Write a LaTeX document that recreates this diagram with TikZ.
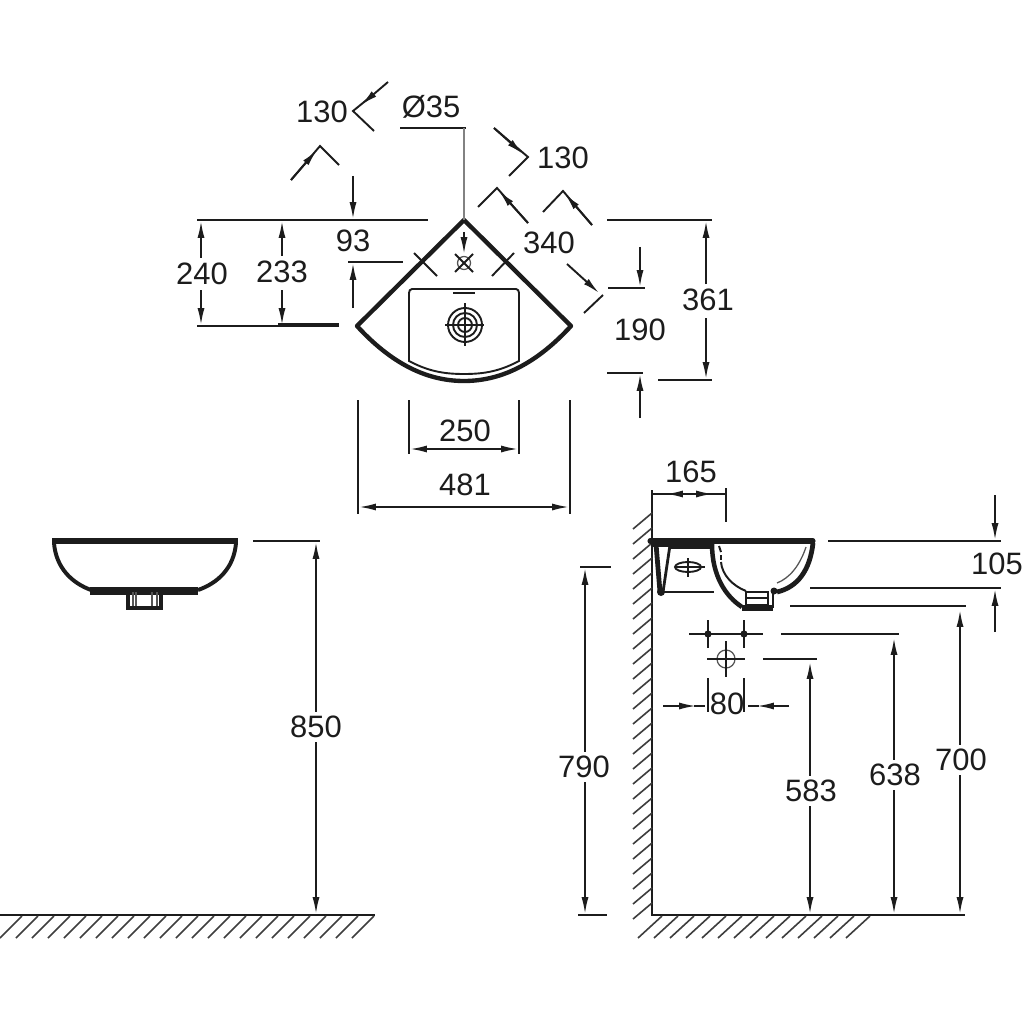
\documentclass[tikz,border=0pt]{standalone}
\usepackage{fontspec}
\setmainfont{Liberation Sans}
\usetikzlibrary{arrows.meta}
\definecolor{ink}{HTML}{1C1C1C}
\tikzset{
  thin line/.style={draw=ink,line width=1.35pt},
  hair/.style={draw=ink!75,line width=0.9pt},
  bold line/.style={draw=ink,line width=3.1pt,line join=round},
  dimarrow/.style={thin line,-{Latex[length=12pt,width=5pt]}},
  dimboth/.style={thin line,{Latex[length=12pt,width=5pt]}-{Latex[length=12pt,width=5pt]}},
  label/.style={font=\fontsize{22}{24}\selectfont,text=ink,inner sep=1pt},
  gaplabel/.style={label,fill=white,inner ysep=3pt},
  hatch/.style={draw=ink!85,line width=1.15pt}
}
\begin{document}
\begin{tikzpicture}[x=0.025cm,y=-0.025cm]
\useasboundingbox[fill=white] (0,0) rectangle (1024,1024);

% ---- plan view ----
\draw[bold line] (464,220) -- (357,326) .. controls (390,362) and (425,381) .. (464,381)
   .. controls (503,381) and (538,362) .. (571,326) -- cycle;
\draw[thin line] (412,289) -- (516,289) .. controls (518,289) and (519,291) .. (519,293) -- (519,361)
   .. controls (500,371) and (485,374) .. (464,374)
   .. controls (443,374) and (428,371) .. (409,361) -- (409,293)
   .. controls (409,291) and (410,289) .. (412,289) -- cycle;
\draw[thin line] (453,293) -- (475,293);
\draw[thin line] (465,325) circle (17) (465,325) circle (12);
\draw[thin line] (465,325) circle (7);
\draw[thin line] (445,325) -- (484,325) (465,303) -- (465,346);
\draw[hair] (464,263) circle (6.5);
\draw[thin line] (455,254) -- (473,272) (473,254) -- (455,272);
\draw[dimarrow] (464,232) -- (464,254);
\draw[thin line] (414,253) -- (437,276) (514,253) -- (492,276);

% diameter leader
\draw[thin line] (400,128) -- (466,128);
\draw[draw=ink!55,line width=1.7pt] (464,128) -- (464,220);
\node[label] (d35) at (431,107) {Ø35};

% 130 upper left
\draw[thin line] (374,131) -- (353,111) -- (369,98);
\draw[dimarrow] (388,82) -- (361,105);
\draw[thin line] (339,165) -- (320,146) -- (291,180);
\draw[dimarrow] (291,180) -- (317,150);
\node[label] (a130) at (322,112) {130};

% 130 upper right
\draw[thin line] (494,128) -- (528,157) -- (509,176);
\draw[dimarrow] (494,128) -- (523,154);
\node[label] (b130) at (563,158) {130};

% 340
\draw[thin line] (478,207) -- (497,188) -- (528,223);
\draw[dimarrow] (528,223) -- (499,191);
\draw[thin line] (543,212) -- (563,191) -- (592,225);
\draw[dimarrow] (592,225) -- (565,194);
\draw[dimarrow] (567,264) -- (599,293);
\draw[thin line] (603,295) -- (584,313);
\node[label] (c340) at (549,243) {340};

% left dims
\draw[thin line] (197,220) -- (428,220);
\draw[thin line] (197,326) -- (278,326);
\draw[draw=ink,line width=2.8pt] (278,325) -- (339,325);
\draw[thin line] (348,262) -- (403,262);
\draw[dimarrow] (353,176) -- (353,219);
\draw[dimarrow] (353,308) -- (353,263);
\node[label] (l93) at (353,241) {93};
\draw[dimarrow] (201,258) -- (201,221);
\draw[dimarrow] (201,290) -- (201,325);
\node[label] (l240) at (202,274) {240};
\draw[dimarrow] (282,256) -- (282,221);
\draw[dimarrow] (282,290) -- (282,325);
\node[label] (l233) at (282,272) {233};

% right dims
\draw[thin line] (607,220) -- (712,220) (658,380) -- (712,380);
\draw[thin line] (608,288) -- (645,288) (607,373) -- (643,373);
\draw[dimarrow] (706,284) -- (706,221);
\draw[dimarrow] (706,318) -- (706,379);
\node[label] (l361) at (708,300) {361};
\draw[dimarrow] (640,247) -- (640,287);
\draw[dimarrow] (640,418) -- (640,374);
\node[label] (l190) at (640,330) {190};

% bottom dims
\draw[thin line] (358,400) -- (358,514) (570,400) -- (570,514);
\draw[thin line] (409,400) -- (409,454) (519,400) -- (519,454);
\draw[dimboth] (410,449) -- (518,449);
\draw[dimboth] (359,507) -- (569,507);
\node[label] (l250) at (465,431) {250};
\node[label] (l481) at (465,485) {481};

% ---- front view ----
\draw[draw=ink,line width=4.6pt] (52,541) -- (238,541);
\draw[draw=ink,line width=2.8pt] (54,543) .. controls (56,568) and (72,583) .. (91,590);
\draw[draw=ink,line width=2.8pt] (236,543) .. controls (234,568) and (218,583) .. (198,590);
\draw[draw=ink,line width=5pt] (90,591) -- (198,591);
\draw[draw=ink,line width=2.2pt] (128,592) -- (128,608) -- (161,608) -- (161,592);
\draw[hair] (133,592) -- (133,606) (136,592) -- (136,606) (152,592) -- (152,606) (157,592) -- (157,606);

% 850
\draw[thin line] (253,541) -- (320,541);
\draw[dimboth] (316,542) -- (316,914);
\node[gaplabel] (l850) at (316,727) {850};

% left floor
\draw[thin line] (0,915) -- (375,915);
\foreach \x in {22,38,...,374} \draw[hatch] (\x,916) -- (\x-22,938);

% ---- side view ----
\draw[thin line] (652,490) -- (652,915) -- (965,915);
\foreach \y in {513,528,...,905} \draw[hatch] (652,\y) -- (633,\y+16);
\foreach \x in {662,678,...,870} \draw[hatch] (\x,916) -- (\x-24,938);

% sink section
\draw[draw=ink,line width=3.6pt,line cap=round] (650,541) -- (813,541);
\draw[draw=ink,line width=6pt] (651,543) -- (712,543);
\draw[draw=ink,line width=3.4pt] (656,544) -- (660,592);
\draw[draw=ink,line width=2pt] (670,545) -- (663,592);
\fill[ink] (661,592) circle (4);
\draw[thin line] (669,548) -- (710,548) (661,592) -- (714,592);
\draw[thin line] (688,567) ellipse (13 and 5);
\draw[thin line] (675,567) -- (705,567) (688,558) -- (688,577);
% bowl
\draw[draw=ink,line width=3.4pt] (813,543) .. controls (810,570) and (798,587) .. (777,592);
\draw[hair] (806,547) .. controls (800,565) and (790,578) .. (777,583);
\draw[draw=ink,line width=3.2pt] (712,544) .. controls (712,575) and (725,596) .. (742,607);
\draw[draw=ink,line width=1.4pt] (721,562) .. controls (722,575) and (733,586) .. (746,591);
\draw[draw=ink,line width=1.4pt] (719,546) -- (721,552);
\draw[draw=ink,line width=1.4pt] (721,555) -- (721,560);
\draw[draw=ink,line width=3.8pt] (742,608) -- (773,608);
\draw[draw=ink,line width=2pt] (773,608) -- (773,590);
\fill[ink] (774,591) circle (3.5);
\draw[thin line] (746,592) rectangle (768,605) (746,598) -- (768,598);

% fixings
\draw[thin line] (689,634) -- (763,634);
\draw[thin line] (708,620) -- (708,648) (744,620) -- (744,648);
\fill[ink] (708,634) circle (3.6) (744,634) circle (3.6);
\draw[hair] (726,659) circle (9);
\draw[thin line] (707,659) -- (745,659) (726,641) -- (726,677);

% 165
\draw[thin line] (726,488) -- (726,522);
\node[label] (l165) at (691,472) {165};
\draw[thin line] (652,494) -- (726,494);
\draw[dimarrow] (680,494) -- (666,494);
\draw[dimarrow] (698,494) -- (713,494);

% 105
\draw[thin line] (828,541) -- (1001,541) (810,588) -- (1001,588);
\draw[dimarrow] (995,495) -- (995,540);
\draw[dimarrow] (995,632) -- (995,589);
\node[label] (l105) at (997,564) {105};

% 700
\draw[thin line] (790,606) -- (966,606);
\draw[dimboth] (960,610) -- (960,914);
\node[gaplabel] (l700) at (961,760) {700};

% 638
\draw[thin line] (781,634) -- (899,634);
\draw[dimboth] (894,638) -- (894,914);
\node[gaplabel] (l638) at (895,775) {638};

% 583
\draw[thin line] (763,659) -- (817,659);
\draw[dimboth] (810,662) -- (810,914);
\node[gaplabel] (l583) at (811,791) {583};

% 790
\draw[thin line] (580,567) -- (611,567) (578,915) -- (607,915);
\draw[dimboth] (585,568) -- (585,914);
\node[gaplabel] (l790) at (584,767) {790};

% 80
\draw[thin line] (708,678) -- (708,712) (744,678) -- (744,712);
\draw[dimarrow] (663,706) -- (696,706);
\draw[thin line] (694,706) -- (705,706);
\draw[dimarrow] (789,706) -- (757,706);
\draw[thin line] (759,706) -- (748,706);
\node[label] (l80) at (727,704) {80};
\end{tikzpicture}
\end{document}
